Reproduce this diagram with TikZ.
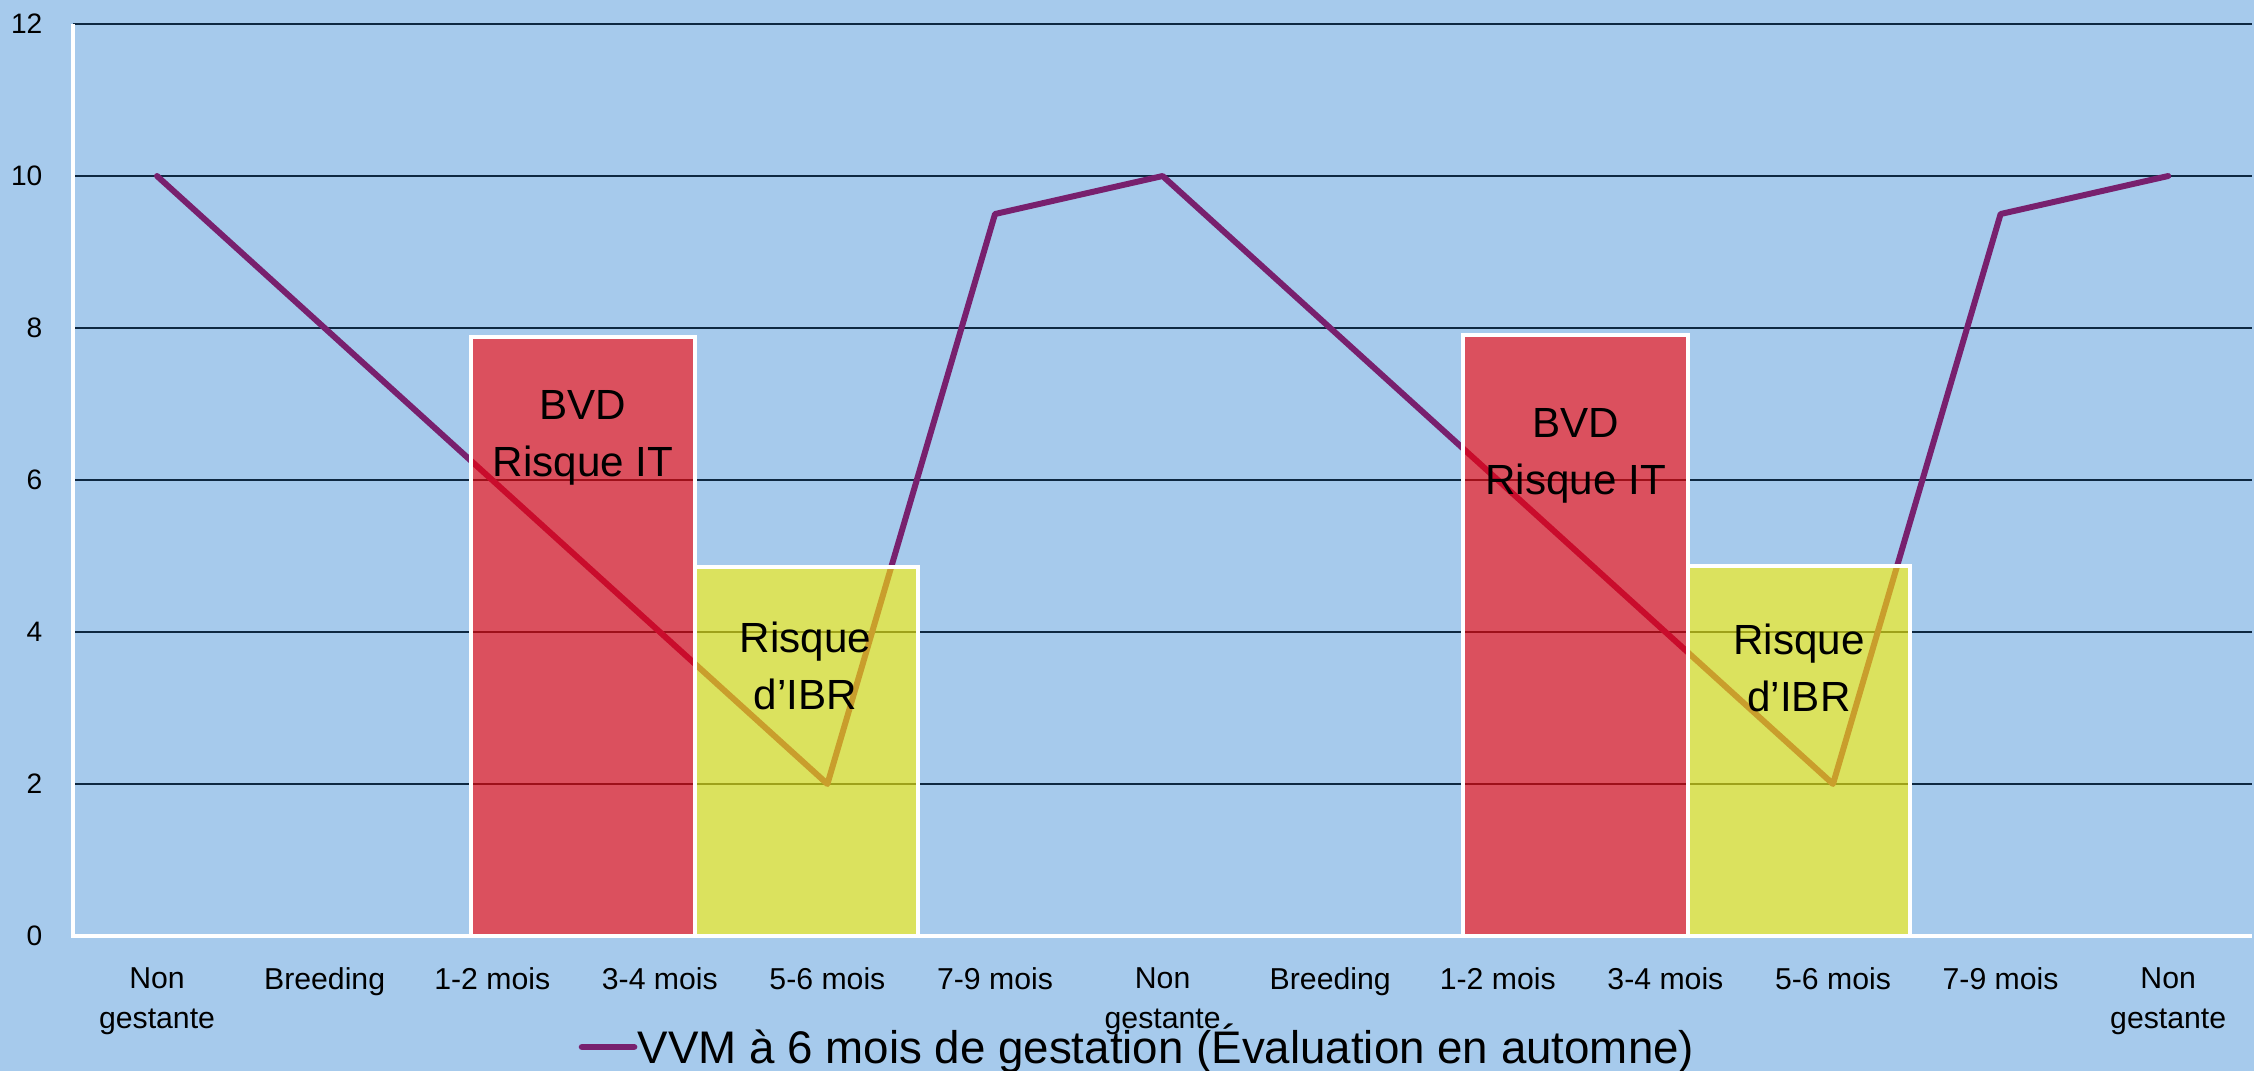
\documentclass[tikz,border=0pt]{standalone}
\usepackage{fontspec}
\setmainfont{Liberation Sans}
\usepackage{tikz}
\usetikzlibrary{positioning}
\definecolor{plotblue}{RGB}{166, 202, 236}
\definecolor{gridnavy}{RGB}{14, 40, 65}
\definecolor{vvmpurple}{RGB}{120, 32, 110}
\tikzset{
  gridline/.style={gridnavy, line width=0.55pt},
  axisline/.style={white, line width=1.1pt},
  vvmline/.style={vvmpurple, line width=1.7pt, line join=round, line cap=round},
  riskbox/.style={draw=white, line width=1pt, fill=#1, fill opacity=0.6},
  risklabel/.style={font=\fontsize{12}{16.2}\selectfont, align=center,
              inner sep=0pt, text=black},
  ylabel/.style={font=\fontsize{8}{9.6}\selectfont, anchor=east, inner sep=0pt},
  xlabel/.style={font=\fontsize{8.6}{11.4}\selectfont, align=center,
              anchor=north, inner sep=0pt},
}

\begin{document}
\begin{tikzpicture}[x=1.676cm, y=0.76cm]
  % Background
  \useasboundingbox (-0.937,-1.776) rectangle (12.512,12.316);
  \fill[plotblue] (-0.937,-1.776) rectangle (12.512,12.316);
  % Gridlines and value labels
  \foreach \v in {2,4,...,12}{
    \draw[gridline] (-0.5,\v) -- (12.5,\v);
  }
  \foreach \v in {0,2,...,12}{
    \node[ylabel] (y\v) at (-0.68,\v) {\v};
  }
  \draw[axisline] (-0.5,12) -- (-0.5,0) -- (12.5,0);
  % Months
  \foreach \lab [count=\i from 0] in {Non\\gestante, Breeding, 1-2 mois, 3-4 mois,
      5-6 mois, 7-9 mois, Non\\gestante, Breeding, 1-2 mois, 3-4 mois,
      5-6 mois, 7-9 mois, Non\\gestante}{
    \node[xlabel] (m\i) at (\i,-0.41) {\lab};
  }
  % VVM curve
  \foreach \v [count=\i from 0] in {10,8,6,4,2,9.5,10,8,6,4,2,9.5,10}{
    \coordinate (p\i) at (\i,\v);
  }
  \draw[vvmline] (p0) \foreach \i in {1,...,12}{ -- (p\i)};
  % Risk windows
  \draw[riskbox=red] (1.874,0) rectangle (3.210,7.88);
  \draw[riskbox=yellow] (3.210,0) rectangle (4.541,4.855);
  \draw[riskbox=red] (7.792,0) rectangle (9.135,7.91);
  \draw[riskbox=yellow] (9.135,0) rectangle (10.459,4.87);
  \node[risklabel] (bvd1) at (2.542,6.55) {BVD\\Risque IT};
  \node[risklabel] (ibr1) at (3.869,3.55) {Risque\\d’IBR};
  \node[risklabel] (bvd2) at (8.464,6.32) {BVD\\Risque IT};
  \node[risklabel] (ibr2) at (9.797,3.53) {Risque\\d’IBR};
  % Legend
  \coordinate (leg) at (2.536,-1.46);
  \coordinate (legend end) at (2.846,-1.46);
  \draw[vvmline, line width=1.9pt] (leg) -- (legend end);
  \node[anchor=base west, inner sep=0pt, font=\fontsize{13}{15}\selectfont]
    (legtext) at (2.864,-1.671) {VVM à 6 mois de gestation (Évaluation en automne)};
\end{tikzpicture}
\end{document}
